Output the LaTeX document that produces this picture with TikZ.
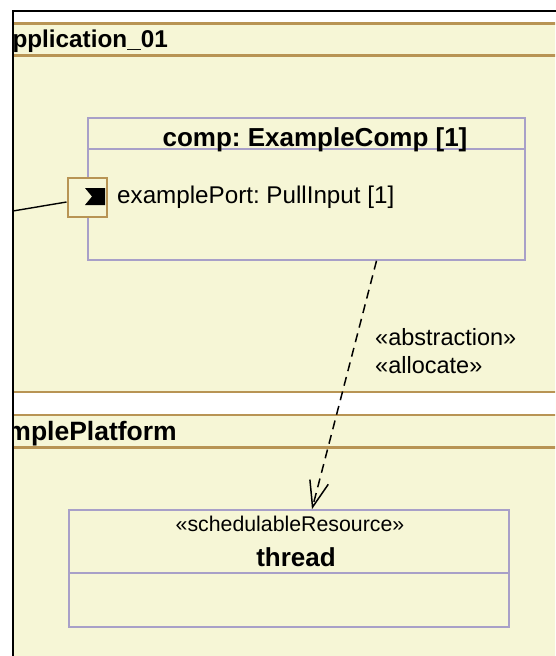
\documentclass[tikz,border=0pt]{standalone}
\usepackage{fontspec}
\setmainfont{Liberation Sans}
\usetikzlibrary{arrows.meta, positioning}
\definecolor{pkgfill}{RGB}{246,246,214}
\definecolor{pkgline}{RGB}{184,148,84}
\definecolor{boxline}{RGB}{168,160,200}
\frenchspacing

\begin{document}
\begin{tikzpicture}[x=1pt, y=-1pt,
    pkgrule/.style={draw=pkgline, line width=2.2pt},
    part/.style={draw=boxline, line width=1.6pt, fill=pkgfill, rectangle,
        inner sep=0pt},
    pkgtitle/.style={font=\bfseries\fontsize{24.3}{28}\selectfont, inner sep=0pt},
    title/.style={font=\bfseries\fontsize{26}{30}\selectfont, inner sep=0pt},
    label/.style={font=\fontsize{23.5}{27}\selectfont, inner sep=0pt},
    stereo/.style={font=\fontsize{21.3}{25}\selectfont, inner sep=0pt}]

    \useasboundingbox (0,0) rectangle (555,656);
    \fill[white] (0,0) rectangle (555,656);

    \begin{scope}
        \clip (13,11) rectangle (555,656);
        % packages
        \fill[pkgfill] (0,23) rectangle (560,392);
        \fill[pkgfill] (0,415) rectangle (560,660);
        \draw[pkgrule] (0,23.5) -- (560,23.5);
        \draw[pkgrule] (0,55.5) -- (560,55.5);
        \draw[pkgrule] (0,392) -- (560,392);
        \draw[pkgrule] (0,415) -- (560,415);
        \draw[pkgrule] (0,447.5) -- (560,447.5);
        \node[pkgtitle, anchor=base east] (appname) at (168,47) {pplication\_01};
        \node[pkgtitle, font=\bfseries\fontsize{26.5}{30}\selectfont, anchor=base east] (platname) at (177,440) {mplePlatform};

        % component with port
        \node[part, minimum width=437pt, minimum height=142pt] (comp) at (306.5,189) {};
        \draw[boxline, line width=1.6pt] ([yshift=-32pt]comp.north west) -- ([yshift=-32pt]comp.north east);
        \node[title, anchor=base] (compname) at (315,146) {comp: ExampleComp [1]};
        \node[draw=pkgline, fill=pkgfill, line width=2pt, minimum size=39pt,
            inner sep=0pt] (port) at (87,197.5) {};
        \fill (85,188) -- (105,188) -- (105,205) -- (85,205) -- (92,196.5) -- cycle;
        \node[label, font=\fontsize{24.2}{28}\selectfont, anchor=base west] (portname) at (117,203) {examplePort: PullInput [1]};
        \coordinate (ext) at (10,211.5);
        \draw[line width=1.4pt] (ext) -- ([yshift=-4.5pt]port.west);

        % execution resource
        \node[part, minimum width=440pt, minimum height=117pt] (thread) at (289,568.5) {};
        \draw[boxline, line width=1.6pt] ([yshift=-64pt]thread.north west) -- ([yshift=-64pt]thread.north east);
        \node[stereo, anchor=base] (threadst) at (290,531) {«schedulableResource»};
        \node[title, anchor=base] (threadname) at (296,566) {thread};

        % allocation
        \draw[line width=1.5pt, dash pattern=on 9pt off 6pt,
            -{Straight Barb[length=26pt, width=19pt, line width=1.5pt]}]
            ([xshift=70pt]comp.south) -- ([xshift=23pt]thread.north);
        \node[label, anchor=base west] (abstr) at (375,345) {«abstraction»};
        \node[label, anchor=base west] (alloc) at (375,373) {«allocate»};
    \end{scope}

    % diagram frame
    \draw[line width=2.4pt] (13,660) -- (13,11) -- (560,11);
\end{tikzpicture}
\end{document}
